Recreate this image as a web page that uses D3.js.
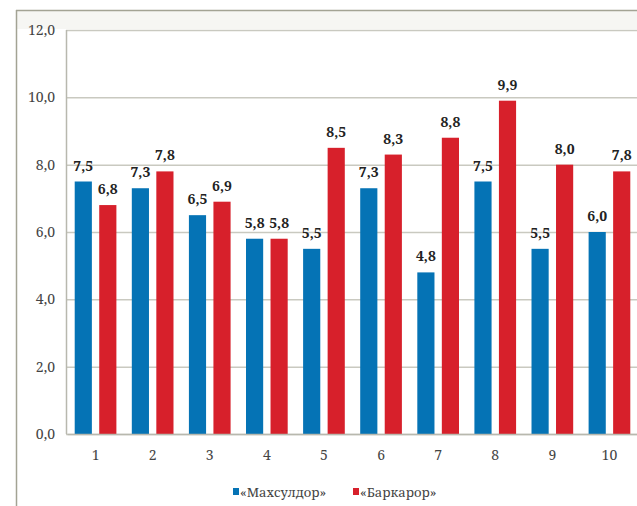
<!DOCTYPE html>
<html>
<head>
<meta charset="utf-8">
<script src="https://cdn.jsdelivr.net/npm/d3@7"></script>
<style>
html,body{margin:0;padding:0;background:#fff;}
svg{display:block;}
</style>
</head>
<body>
<svg id="chart" width="637" height="506"></svg>
<script>
const categories = ["1","2","3","4","5","6","7","8","9","10"];
const seriesNames = ["«Махсулдор»","«Баркарор»"];
const mahsuldor = [7.5,7.3,6.5,5.8,5.5,7.3,4.8,7.5,5.5,6.0];
const barkaror  = [6.8,7.8,6.9,5.8,8.5,8.3,8.8,9.9,8.0,7.8];
const yTicks = [0,2,4,6,8,10,12];
const colors = ["#0573b5","#d7202b"];

(function(){
const FONT = "'Noto Serif', 'DejaVu Serif', serif";
const svg = d3.select("#chart");
const W = 637, H = 506;
const mLeft = 67, mRight = 638, mTop = 30, mBottom = 434;

// frame
svg.append("rect").attr("x",17).attr("y",11).attr("width",W-17).attr("height",18).attr("fill","#f6f6f3");
svg.append("line").attr("x1",16).attr("x2",W).attr("y1",10.5).attr("y2",10.5).attr("stroke","#a3a394").attr("stroke-width",1.5);
svg.append("line").attr("x1",16.5).attr("x2",16.5).attr("y1",10).attr("y2",H).attr("stroke","#a3a394").attr("stroke-width",1.5);

const y = d3.scaleLinear().domain([0,12]).range([mBottom, mTop]);
const x = d3.scaleBand().domain(categories).range([mLeft, mRight]).paddingInner(0.27).paddingOuter(0.135);
const xs = d3.scaleBand().domain(seriesNames).range([0, x.bandwidth()]).paddingInner(0.3);

// gridlines
const yAxis = d3.axisLeft(y).tickValues(yTicks).tickSize(-(W - mLeft + 1)).tickPadding(11)
  .tickFormat(d => d3.format(".1f")(d).replace(".", ","));
const gy = svg.append("g").attr("transform", `translate(${mLeft - 1},0)`).call(yAxis);
gy.select(".domain").remove();
gy.selectAll(".tick line").attr("stroke","#c9c9c0").attr("stroke-width",1.5);
gy.selectAll(".tick text").attr("fill","#444").style("font-family",FONT).style("font-size","14px");

// left axis line
svg.append("line").attr("x1",mLeft-0.5).attr("x2",mLeft-0.5).attr("y1",mTop).attr("y2",mBottom).attr("stroke","#b8b8ae").attr("stroke-width",1.5);

// bars
const data = categories.map((c,i)=>({cat:c, vals:[mahsuldor[i], barkaror[i]]}));
const groups = svg.append("g").selectAll("g").data(data).join("g")
  .attr("transform", d => `translate(${x(d.cat)},0)`);
groups.selectAll("rect").data(d => d.vals.map((v,j)=>({name:seriesNames[j], v, j})))
  .join("rect")
  .attr("x", d => xs(d.name))
  .attr("width", xs.bandwidth())
  .attr("y", d => y(d.v))
  .attr("height", d => y(0) - y(d.v))
  .attr("fill", d => colors[d.j]);
groups.selectAll("text").data(d => d.vals.map((v,j)=>({name:seriesNames[j], v, j})))
  .join("text")
  .attr("x", d => xs(d.name) + xs.bandwidth()/2)
  .attr("y", d => y(d.v) - 11)
  .attr("text-anchor","middle")
  .style("font-family",FONT)
  .style("font-weight","bold")
  .style("font-size","14px")
  .attr("fill","#222")
  .text(d => d3.format(".1f")(d.v).replace(".", ","));

// bottom axis
const xAxis = d3.axisBottom(x).tickSize(0).tickPadding(16);
const gx = svg.append("g").attr("transform", `translate(0,${mBottom})`).call(xAxis);
gx.select(".domain").attr("stroke","#b8b8ae").attr("stroke-width",1.5);
gx.selectAll(".tick text").attr("fill","#444").style("font-family",FONT).style("font-size","14px");

// legend
const legend = [{x:233, name:seriesNames[0], c:colors[0]},{x:353, name:seriesNames[1], c:colors[1]}];
const lg = svg.append("g").selectAll("g").data(legend).join("g")
  .attr("transform", d => `translate(${d.x},492)`);
lg.append("rect").attr("x",0).attr("y",-4).attr("width",6).attr("height",7).attr("fill", d => d.c);
lg.append("text").attr("x",7).attr("y",5).style("font-family",FONT).style("font-size","13px").attr("fill","#444").text(d => d.name);
})();
</script>
</body>
</html>
